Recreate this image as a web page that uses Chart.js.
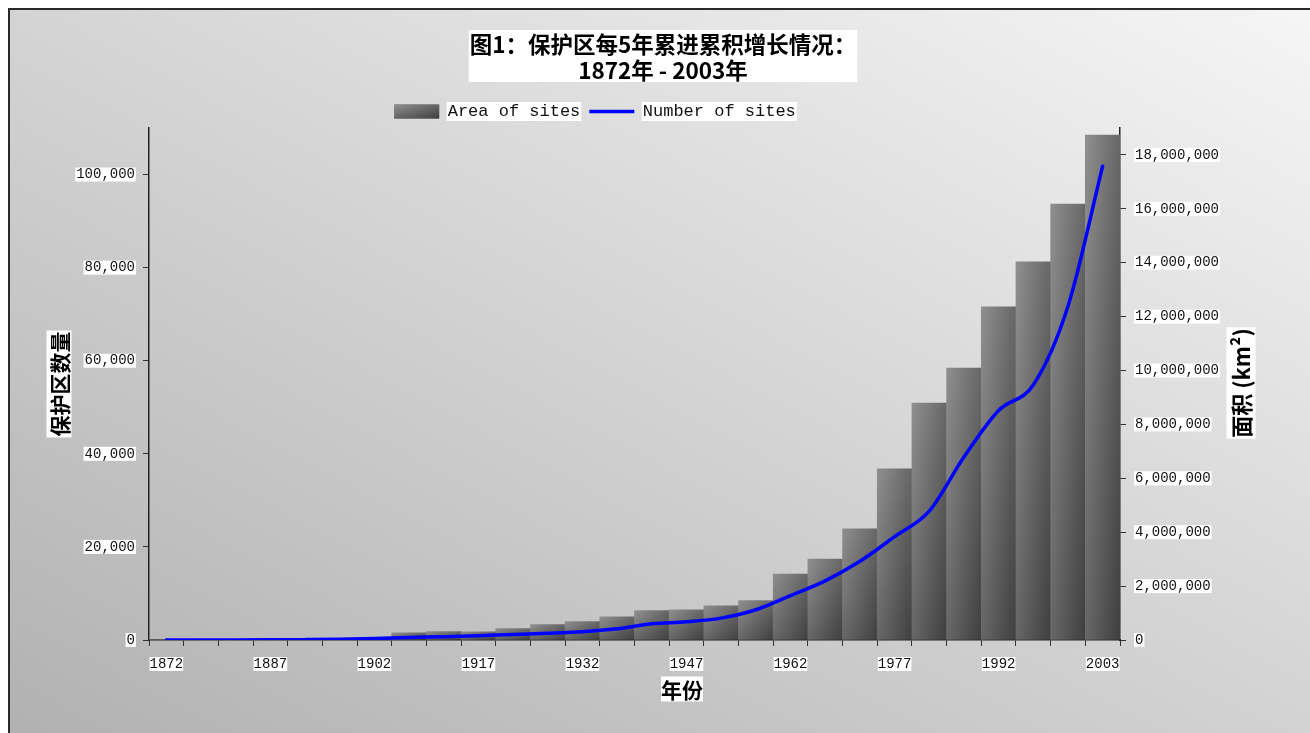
<!DOCTYPE html>
<html><head><meta charset="utf-8">
<script src="https://cdn.jsdelivr.net/npm/chart.js@4.4.1/dist/chart.umd.min.js"></script>
<style>
html,body{margin:0;padding:0;width:1310px;height:733px;overflow:hidden;background:#fff;}
#frame{position:absolute;left:8px;top:8px;width:1330px;height:750px;border:2px solid #2a2a2a;box-sizing:border-box;background:linear-gradient(28deg,#b0b0b0,#f6f6f6);}
#c{position:absolute;left:0;top:0;}
</style></head><body>
<div id="frame"></div>
<canvas id="c" width="1310" height="733"></canvas>
<script>
// ---- data ----
const years = ['1872','1877','1882','1887','1892','1897','1902','1907','1912','1917','1922','1927','1932','1937','1942','1947','1952','1957','1962','1967','1972','1977','1982','1987','1992','1997','2002','2003'];
const shownYears = ['1872','1887','1902','1917','1932','1947','1962','1977','1992','2003'];
const areaOfSites = [9000, 9000, 12000, 15000, 20000, 30000, 50000, 270000, 310000, 300000, 420000, 570000, 680000, 860000, 1090000, 1120000, 1270000, 1460000, 2450000, 3000000, 4130000, 6350000, 8790000, 10090000, 12360000, 14030000, 16180000, 18740000];
const numberOfSites = [1, 5, 15, 40, 80, 160, 320, 550, 700, 920, 1200, 1430, 1750, 2400, 3500, 3900, 4700, 6500, 9550, 12700, 16900, 22200, 27700, 39300, 49300, 54800, 71700, 101800];
const countTicks = [0, 20000, 40000, 60000, 80000, 100000];
const areaTicks = [0, 2000000, 4000000, 6000000, 8000000, 10000000, 12000000, 14000000, 16000000, 18000000];
const countMax = 110000;
const areaMax = 19000000;
const titleLines = ['图1：保护区每5年累进累积增长情况：', '1872年 - 2003年'];
const seriesNames = ['Area of sites', 'Number of sites'];
const leftTitle = '保护区数量';
const rightTitle = '面积 (km²)';
const bottomTitle = '年份';

// ---- styling helpers ----
const tickFont = {family: 'Liberation Mono', size: 14, lineHeight: 1};
const cjkBold = 'bold 21px "Noto Sans CJK SC"';
const fmt = v => Number(v).toLocaleString('en-US');

function diagGrad(ctx, x, y, w, h) {
  if (!(w > 0) || !(h > 1)) return '#6a6a6a';
  const s = 2 / (1 / (w * w) + 1 / (h * h));
  const g = ctx.createLinearGradient(x, y, x + s / w, y + s / h);
  g.addColorStop(0, '#8f8f8f');
  g.addColorStop(1, '#3f3f3f');
  return g;
}

function barFill(c) {
  if (c.type !== 'data') return '#6a6a6a';
  const ch = c.chart, xs = ch.scales.x, ys = ch.scales.y2;
  if (!xs || !ys) return '#6a6a6a';
  const l = xs.getPixelForValue(c.dataIndex - 0.5);
  const r = xs.getPixelForValue(c.dataIndex + 0.5);
  const t = ys.getPixelForValue(c.raw);
  const b = ys.getPixelForValue(0);
  return diagGrad(ch.ctx, l, t, r - l, b - t);
}

function boxedText(ctx, text, x, y, font, rot, padX, boxH) {
  ctx.save();
  ctx.translate(x, y);
  ctx.rotate(rot);
  ctx.font = font;
  const w = ctx.measureText(text).width;
  ctx.fillStyle = '#fff';
  ctx.fillRect(-w / 2 - padX, -boxH / 2, w + 2 * padX, boxH);
  ctx.fillStyle = '#000';
  ctx.textAlign = 'center';
  ctx.textBaseline = 'middle';
  ctx.fillText(text, 0, 1);
  ctx.restore();
}

const LEG_FONT = 17, LEG_BOX = 45, LEG_H = 34, LEG_RIGHT_INSET = 120;

const decor = {
  id: 'decor',
  beforeLayout(chart) {
    const lg = chart.legend;
    if (lg && !lg._patched) {
      const f = lg.fit;
      lg.fit = function () { f.call(this); this.height = LEG_H; };
      lg._patched = true;
    }
  },
  afterLayout(chart) {
    const lg = chart.legend;
    if (lg) {
      lg.right = chart.width - LEG_RIGHT_INSET;
      lg.width = lg.right - lg.left;
    }
  },
  beforeDraw(chart) {
    const ctx = chart.ctx, lg = chart.legend;
    if (lg && lg.legendHitBoxes) {
      ctx.save();
      ctx.fillStyle = '#fff';
      lg.legendHitBoxes.forEach(h => {
        const tx = h.left + LEG_BOX + LEG_FONT / 2;
        ctx.fillRect(tx - 1, h.top + LEG_FONT / 2 - 9.5, h.left + h.width - tx + 2, 19);
      });
      ctx.restore();
    }
  },
  afterDraw(chart) {
    const ctx = chart.ctx, lg = chart.legend, ca = chart.chartArea;
    if (lg && lg.legendHitBoxes && lg.legendHitBoxes[0]) {
      const h = lg.legendHitBoxes[0];
      const y0 = h.top + LEG_FONT / 2 - 7;
      ctx.save();
      ctx.fillStyle = diagGrad(ctx, h.left, y0, LEG_BOX, 14);
      ctx.fillRect(h.left, y0, LEG_BOX, 14);
      ctx.restore();
    }
    ctx.save();
    ctx.font = 'bold 22.5px "Noto Sans CJK SC"';
    const tw = Math.max(...titleLines.map(l => ctx.measureText(l).width));
    const cx = 663;
    ctx.fillStyle = '#fff';
    ctx.fillRect(cx - tw / 2 - 1, 30, tw + 2, 52);
    ctx.fillStyle = '#000';
    ctx.textAlign = 'center';
    ctx.textBaseline = 'middle';
    ctx.fillText(titleLines[0], cx, 44);
    ctx.fillText(titleLines[1], cx, 70);
    ctx.restore();
    const midY = (ca.top + ca.bottom) / 2;
    boxedText(ctx, leftTitle, 59, midY, cjkBold, -Math.PI / 2, 1, 25);
    boxedText(ctx, rightTitle, 1241, midY - 1, 'bold 22px "Noto Sans CJK SC"', -Math.PI / 2, 1, 29);
    boxedText(ctx, bottomTitle, 682, 689, cjkBold, 0, 0, 25);
  }
};

const axisBorder = {display: true, color: '#222', width: 1.5};
const tickCommon = {color: '#111', font: tickFont, showLabelBackdrop: true, backdropColor: '#fff', backdropPadding: {top: 0, bottom: 0, left: 1, right: 1}};

new Chart(document.getElementById('c'), {
  type: 'bar',
  data: {
    labels: years,
    datasets: [
      {type: 'bar', label: seriesNames[0], data: areaOfSites, yAxisID: 'y2', order: 2,
       barPercentage: 1, categoryPercentage: 1, borderWidth: 0, backgroundColor: barFill, pointStyle: 'rect'},
      {type: 'line', label: seriesNames[1], data: numberOfSites, yAxisID: 'y', order: 1,
       borderColor: '#0000ff', backgroundColor: '#0000ff', borderWidth: 3.5, pointRadius: 0, pointHoverRadius: 0,
       cubicInterpolationMode: 'monotone', borderCapStyle: 'round', fill: false, pointStyle: 'line'}
    ]
  },
  options: {
    responsive: false, animation: false, events: [],
    layout: {padding: {top: 94, left: 0, right: 0, bottom: 0}},
    plugins: {
      title: {display: false},
      tooltip: {enabled: false},
      legend: {
        display: true, position: 'top', align: 'center',
        labels: {
          usePointStyle: true, pointStyleWidth: LEG_BOX, boxHeight: 14, padding: 9, color: '#111',
          font: {family: 'Liberation Mono', size: LEG_FONT},
          sort: (a, b) => a.datasetIndex - b.datasetIndex,
          generateLabels: ch => {
            const items = Chart.defaults.plugins.legend.labels.generateLabels(ch);
            items.forEach(it => {
              const ds = ch.data.datasets[it.datasetIndex];
              if (ds.type === 'bar') { it.pointStyle = 'rect'; it.fillStyle = '#666'; it.lineWidth = 0; }
              else { it.pointStyle = 'line'; it.strokeStyle = '#0000ff'; it.lineWidth = 3.5; }
            });
            return items;
          }
        }
      }
    },
    scales: {
      x: {
        type: 'category', offset: true,
        grid: {display: true, drawOnChartArea: false, drawTicks: true, tickLength: 6, color: '#333', offset: true},
        border: axisBorder,
        ticks: Object.assign({}, tickCommon, {autoSkip: false, maxRotation: 0, minRotation: 0, padding: 11,
          backdropPadding: 0,
          callback(value) { const lab = this.getLabelForValue(value); return shownYears.includes(lab) ? lab : ''; }}),
        afterFit: s => { s.height = 93; }
      },
      y: {
        type: 'linear', position: 'left', min: 0, max: countMax,
        grid: {display: true, drawOnChartArea: false, drawTicks: true, tickLength: 6, color: '#333'},
        border: axisBorder,
        ticks: Object.assign({}, tickCommon, {padding: 8, callback: v => fmt(v)}),
        afterBuildTicks: s => { s.ticks = countTicks.map(v => ({value: v})); },
        afterFit: s => { s.width = 149; }
      },
      y2: {
        type: 'linear', position: 'right', min: 0, max: areaMax,
        grid: {display: true, drawOnChartArea: false, drawTicks: true, tickLength: 6, color: '#333'},
        border: axisBorder,
        ticks: Object.assign({}, tickCommon, {padding: 9, callback: v => fmt(v)}),
        afterBuildTicks: s => { s.ticks = areaTicks.map(v => ({value: v})); },
        afterFit: s => { s.width = 190; }
      }
    }
  },
  plugins: [decor]
});
</script></body></html>
